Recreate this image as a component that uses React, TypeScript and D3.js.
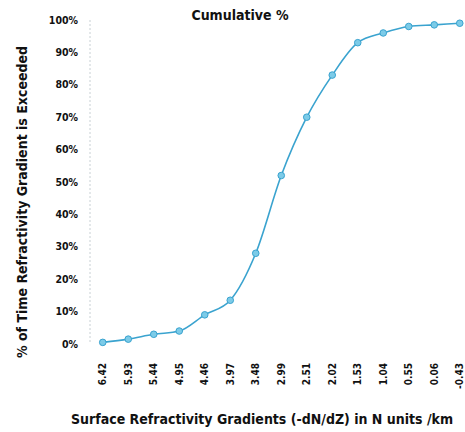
import React from "react";
import * as d3 from "d3";

const gradients = ["6.42", "5.93", "5.44", "4.95", "4.46", "3.97", "3.48", "2.99", "2.51", "2.02", "1.53", "1.04", "0.55", "0.06", "-0.43"];
const cumulative = [0.5, 1.5, 3, 4, 9, 13.5, 28, 52, 70, 83, 93, 96, 98, 98.5, 99];
const yTicks = [0, 10, 20, 30, 40, 50, 60, 70, 80, 90, 100];

const W = 465;
const H = 432;
const FONT = "'DejaVu Sans Condensed', 'Liberation Sans', sans-serif";

export default function App() {
    const x = d3.scaleBand<string>().domain(gradients).range([90, 472.5]);
    const y = d3.scaleLinear().domain([0, 100]).range([344, 20]);

    const pts = gradients.map((g, i) => ({ g, v: cumulative[i] }));
    const cx = (g: string) => (x(g) ?? 0) + x.bandwidth() / 2;

    const line = d3
        .line<{ g: string; v: number }>()
        .x((d) => cx(d.g))
        .y((d) => y(d.v))
        .curve(d3.curveMonotoneX);

    return (
        <svg
            width={W}
            height={H}
            style={{ position: "absolute", left: 0, top: 0, background: "#fff" }}
            fontFamily={FONT}
        >
            {/* y axis line */}
            <line x1={90} x2={90} y1={y(100)} y2={y(0)} stroke="#c8d0d4" strokeDasharray="2,2" />

            {yTicks.map((t) => (
                <text
                    key={t}
                    x={78}
                    y={y(t)}
                    dy="0.35em"
                    textAnchor="end"
                    fontSize={10.5}
                    fontWeight="bold"
                    fill="#111"
                >
                    {t}%
                </text>
            ))}

            {gradients.map((g) => (
                <text
                    key={g}
                    transform={`translate(${cx(g)},363) rotate(-90)`}
                    dy="0.35em"
                    textAnchor="end"
                    fontSize={10}
                    fontWeight="bold"
                    fill="#111"
                >
                    {g}
                </text>
            ))}

            <path d={line(pts) ?? ""} fill="none" stroke="#3aa3cf" strokeWidth={1.6} />
            {pts.map((d) => (
                <circle
                    key={d.g}
                    cx={cx(d.g)}
                    cy={y(d.v)}
                    r={3.3}
                    fill="#7ccbe8"
                    stroke="#3aa3cf"
                    strokeWidth={1}
                />
            ))}

            <text x={240} y={20} textAnchor="middle" fontSize={14} fontWeight="bold" fill="#111">
                Cumulative %
            </text>
            <text
                transform="translate(22,202) rotate(-90)"
                textAnchor="middle"
                dy="0.35em"
                fontSize={14}
                fontWeight="bold"
                fill="#111"
            >
                % of Time Refractivity Gradient is Exceeded
            </text>
            <text x={262} y={424} textAnchor="middle" fontSize={14} fontWeight="bold" fill="#111">
                Surface Refractivity Gradients (-dN/dZ) in N units /km
            </text>
        </svg>
    );
}
